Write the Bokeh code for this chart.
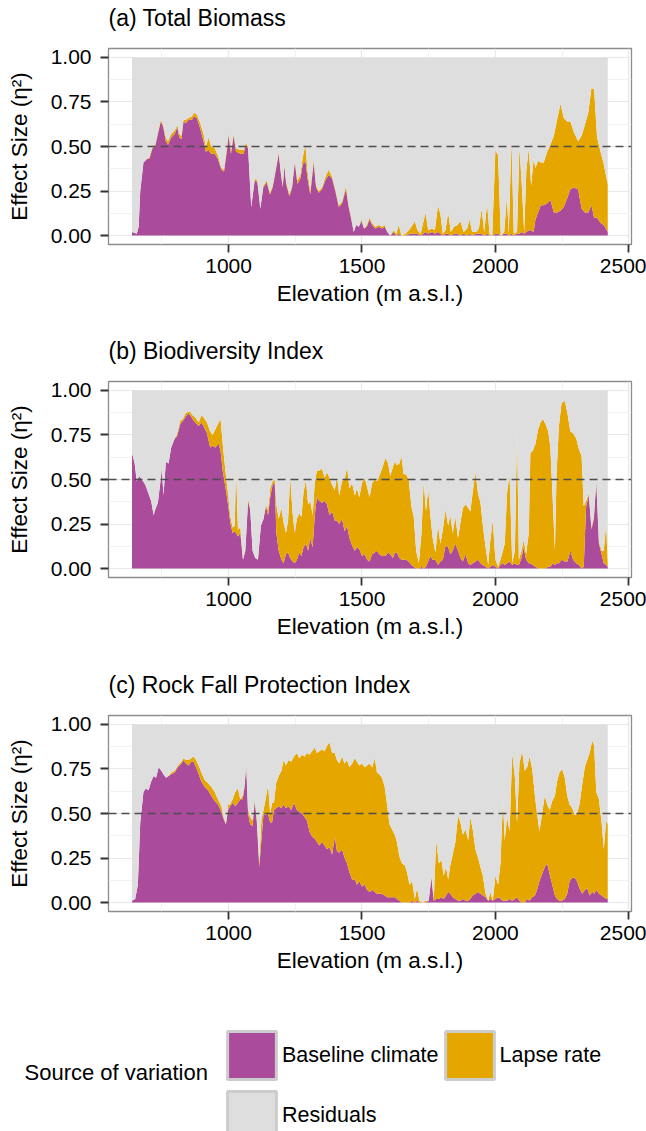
from bokeh.plotting import figure
from bokeh.models import (Range1d, FixedTicker, Span, Legend, LegendItem, Title,
                          ColumnDataSource, Label, PrintfTickFormatter)
from bokeh.layouts import column
from bokeh.embed import file_html
from bokeh.resources import INLINE

# ---------------- data ----------------
panel_titles = ["(a) Total Biomass", "(b) Biodiversity Index", "(c) Rock Fall Protection Index"]
legend_labels = ["Baseline climate", "Lapse rate", "Residuals"]
legend_title = "Source of variation"
x_ticks = [1000, 1500, 2000, 2500]
y_ticks = [0.0, 0.25, 0.5, 0.75, 1.0]
threshold = 0.5

elev_a = [638, 656, 663, 669, 681, 694, 703, 715, 725, 735,
          746, 755, 765, 773, 785, 798, 808, 815, 823, 831,
          840, 850, 863, 870, 881, 894, 906, 915, 925, 935,
          948, 960, 973, 983, 994, 1000, 1009, 1019, 1028, 1044,
          1056, 1065, 1073, 1085, 1098, 1108, 1119, 1130, 1143, 1155,
          1165, 1175, 1188, 1195, 1203, 1209, 1216, 1228, 1238, 1248,
          1258, 1269, 1278, 1288, 1296, 1306, 1319, 1328, 1338, 1350,
          1363, 1375, 1388, 1400, 1413, 1425, 1440, 1450, 1460, 1469,
          1478, 1488, 1498, 1508, 1518, 1528, 1538, 1550, 1563, 1575,
          1585, 1595, 1606, 1619, 1628, 1638, 1648, 1663, 1681, 1698,
          1708, 1720, 1738, 1748, 1763, 1773, 1785, 1794, 1803, 1813,
          1823, 1833, 1845, 1858, 1869, 1881, 1894, 1903, 1913, 1928,
          1938, 1948, 1958, 1969, 1978, 1988, 2000, 2010, 2020, 2033,
          2043, 2050, 2060, 2069, 2081, 2090, 2099, 2108, 2116, 2125,
          2134, 2143, 2150, 2160, 2170, 2181, 2194, 2206, 2219, 2231,
          2244, 2256, 2269, 2281, 2294, 2310, 2323, 2335, 2348, 2360,
          2370, 2381, 2394, 2406, 2421]
base_a = [.02, .01, .05, .25, .41, .43, .43, .49, .50, .57,
          .64, .61, .53, .51, .55, .57, .61, .55, .54, .64,
          .63, .65, .65, .67, .66, .60, .53, .47, .48, .46,
          .46, .43, .37, .36, .48, .56, .46, .56, .47, .46,
          .46, .51, .49, .16, .31, .30, .15, .27, .30, .23,
          .27, .35, .46, .36, .27, .39, .29, .22, .27, .41,
          .29, .32, .40, .42, .32, .23, .41, .27, .24, .26,
          .31, .34, .32, .25, .16, .18, .26, .16, .09, .02,
          .06, .05, .08, .04, .05, .09, .06, .04, .05, .04,
          .05, .02, .00, .02, .00, .01, .00, .00, .01, .01,
          .01, .00, .02, .01, .02, .01, .02, .01, .00, .01,
          .01, .00, .01, .01, .00, .01, .00, .01, .00, .01,
          .01, .01, .00, .01, .00, .00, .01, .01, .00, .01,
          .01, .00, .01, .00, .01, .01, .02, .01, .02, .03,
          .03, .02, .09, .13, .17, .17, .18, .20, .13, .13,
          .14, .16, .21, .26, .27, .26, .15, .13, .13, .17,
          .10, .10, .07, .06, .02]
lapse_a = [0, 0, 0, 0, 0, 0, .01, .01, .01, .01,
           .01, .01, .02, .02, .02, .02, .01, .02, .02, .01,
           .02, .01, .02, .02, .02, .03, .04, .03, .07, .04,
           .03, .02, .01, .01, .02, .01, .02, .01, .02, .02,
           .02, .01, .01, 0, .01, .01, 0, .01, .01, .01,
           .01, .01, .01, .01, .01, .01, .01, .01, .01, .01,
           .02, .02, .04, .09, .04, .02, .02, .01, .01, .01,
           .02, .03, .01, .01, .01, .01, .02, .01, .01, 0,
           0, 0, .01, 0, .01, .01, .01, .01, .01, .01,
           .01, 0, 0, .01, .01, .05, 0, .01, .03, .07,
           .02, .01, .11, .02, .02, .02, .15, .11, .01, .02,
           .12, .02, .04, .05, .08, .01, .04, .08, .02, .01,
           .03, .14, .02, .17, .01, 0, .47, .44, 0, .01,
           .21, .01, .53, .01, .01, .49, .26, .01, .35, .46,
           .25, .41, .29, .29, .24, .24, .29, .31, .43, .52,
           .60, .50, .43, .38, .31, .27, .41, .49, .56, .66,
           .72, .45, .40, .34, .27]

elev_b = [638, 648, 656, 665, 675, 688, 700, 710, 719, 725,
          735, 744, 750, 756, 765, 775, 785, 798, 806, 819,
          829, 838, 848, 856, 865, 875, 888, 898, 906, 919,
          931, 940, 950, 963, 970, 978, 988, 998, 1006, 1015,
          1023, 1028, 1035, 1044, 1054, 1063, 1073, 1081, 1090, 1100,
          1110, 1121, 1131, 1140, 1148, 1156, 1165, 1173, 1179, 1188,
          1198, 1206, 1215, 1223, 1231, 1240, 1248, 1256, 1265, 1273,
          1281, 1290, 1298, 1306, 1315, 1323, 1331, 1340, 1350, 1360,
          1369, 1378, 1388, 1398, 1406, 1415, 1425, 1435, 1444, 1453,
          1463, 1473, 1481, 1490, 1500, 1510, 1519, 1528, 1538, 1548,
          1556, 1565, 1575, 1588, 1598, 1606, 1616, 1623, 1631, 1640,
          1648, 1656, 1665, 1675, 1685, 1694, 1703, 1713, 1723, 1731,
          1740, 1748, 1756, 1765, 1775, 1785, 1794, 1803, 1813, 1823,
          1831, 1840, 1850, 1860, 1869, 1878, 1888, 1898, 1906, 1915,
          1925, 1935, 1944, 1953, 1963, 1973, 1981, 1990, 2000, 2010,
          2019, 2028, 2035, 2044, 2053, 2063, 2073, 2081, 2088, 2098,
          2106, 2115, 2125, 2131, 2140, 2150, 2160, 2169, 2178, 2188,
          2198, 2206, 2215, 2223, 2229, 2238, 2248, 2260, 2270, 2281,
          2291, 2303, 2313, 2323, 2331, 2340, 2350, 2360, 2369, 2378,
          2388, 2398, 2406, 2415, 2421]
base_b = [.65, .59, .49, .52, .50, .47, .42, .38, .30, .33,
          .37, .48, .56, .41, .60, .59, .68, .73, .74, .81,
          .83, .85, .87, .86, .84, .82, .80, .82, .80, .76,
          .68, .69, .68, .70, .66, .55, .46, .36, .26, .20,
          .21, .20, .18, .20, .05, .10, .38, .33, .10, .06,
          .05, .24, .28, .35, .30, .40, .47, .48, .20, .10,
          .05, .03, .08, .09, .06, .04, .03, .05, .09, .07,
          .12, .14, .10, .17, .12, .30, .40, .38, .37, .38,
          .36, .30, .32, .27, .27, .25, .28, .21, .24, .17,
          .13, .10, .12, .11, .07, .08, .05, .04, .08, .09,
          .10, .08, .07, .07, .09, .08, .06, .09, .09, .06,
          .05, .05, .05, .04, .02, .01, .00, .00, .01, .00,
          .01, .04, .07, .05, .05, .02, .04, .05, .13, .12,
          .08, .10, .14, .10, .06, .04, .08, .03, .02, .03,
          .04, .05, .03, .02, .01, .00, .01, .02, .01, .00,
          .02, .03, .02, .03, .04, .02, .03, .02, .02, .06,
          .12, .05, .03, .03, .02, .01, .00, .00, .00, .00,
          .01, .01, .03, .02, .03, .03, .05, .04, .04, .10,
          .05, .03, .02, .00, .01, .35, .41, .22, .28, .49,
          .14, .08, .03, .02, .01]
lapse_b = [0, 0, 0, 0, 0, 0, 0, 0, 0, 0,
           0, 0, 0, 0, 0, 0, 0, 0, .01, .02,
           .01, .02, .01, .02, .02, .03, .02, .04, .05, .06,
           .09, .06, .10, .12, .18, .15, .09, .06, .04, .03,
           .03, .37, .04, .03, 0, .01, .01, .01, 0, 0,
           0, 0, 0, .01, .03, .05, .02, .02, .16, .18,
           .29, .23, .12, .18, .46, .27, .17, .23, .22, .22,
           .31, .36, .26, .21, .18, .18, .15, .17, .19, .13,
           .18, .21, .15, .17, .25, .16, .21, .29, .33, .28,
           .35, .31, .33, .29, .41, .43, .41, .36, .40, .41,
           .39, .44, .49, .55, .50, .44, .51, .51, .49, .53,
           .58, .48, .48, .46, .33, .28, .10, .03, .19, .49,
           .31, .41, .23, .12, .04, .22, .10, .17, .20, .12,
           .22, .10, .15, .07, .20, .30, .28, .31, .30, .40,
           .50, .37, .34, .22, .11, .02, .15, .25, .04, .01,
           .03, .07, .12, .40, .49, .01, .07, .75, .03, .04,
           .04, .03, .17, .62, .64, .69, .78, .82, .84, .81,
           .76, .67, .35, .08, .50, .77, .88, .90, .83, .67,
           .71, .70, .65, .63, .34, .03, .01, .01, .01, .01,
           .01, .02, .07, .23, .02]

elev_c = [638, 650, 660, 669, 681, 690, 700, 710, 719, 728,
          738, 748, 756, 765, 775, 785, 798, 810, 823, 831,
          840, 850, 860, 869, 878, 888, 898, 910, 923, 935,
          948, 960, 973, 981, 990, 998, 1006, 1015, 1025, 1035,
          1044, 1053, 1060, 1066, 1073, 1081, 1090, 1098, 1106, 1115,
          1123, 1131, 1140, 1148, 1156, 1163, 1170, 1178, 1188, 1198,
          1206, 1215, 1225, 1235, 1245, 1256, 1265, 1275, 1285, 1294,
          1303, 1313, 1323, 1331, 1340, 1350, 1360, 1369, 1378, 1388,
          1398, 1406, 1415, 1425, 1435, 1444, 1453, 1463, 1473, 1481,
          1490, 1500, 1510, 1519, 1528, 1538, 1548, 1556, 1565, 1575,
          1585, 1594, 1603, 1613, 1623, 1631, 1640, 1650, 1660, 1669,
          1678, 1688, 1698, 1706, 1715, 1725, 1738, 1750, 1760, 1769,
          1778, 1788, 1798, 1806, 1815, 1823, 1831, 1840, 1850, 1860,
          1869, 1878, 1888, 1898, 1906, 1915, 1925, 1935, 1944, 1953,
          1963, 1973, 1981, 1990, 2000, 2010, 2019, 2028, 2035, 2044,
          2053, 2063, 2073, 2081, 2090, 2100, 2110, 2119, 2128, 2138,
          2148, 2156, 2165, 2175, 2185, 2194, 2203, 2213, 2223, 2231,
          2240, 2250, 2260, 2269, 2278, 2288, 2298, 2306, 2315, 2325,
          2335, 2344, 2353, 2363, 2370, 2378, 2388, 2398, 2406, 2415,
          2421]
base_c = [.01, .02, .10, .45, .62, .64, .63, .68, .71, .70,
          .76, .74, .72, .70, .71, .72, .73, .76, .78, .80,
          .78, .77, .79, .79, .76, .72, .68, .65, .63, .60,
          .57, .55, .51, .47, .44, .52, .54, .56, .54, .56,
          .58, .58, .65, .77, .50, .44, .43, .57, .45, .20,
          .35, .50, .49, .50, .45, .45, .52, .53, .54, .53,
          .55, .53, .54, .52, .56, .52, .51, .50, .48, .46,
          .40, .37, .36, .34, .32, .34, .32, .30, .31, .27,
          .37, .29, .28, .30, .25, .22, .17, .13, .13, .10,
          .12, .09, .10, .07, .06, .07, .06, .05, .05, .05,
          .04, .03, .03, .03, .03, .02, .01, .00, .00, .00,
          .00, .01, .00, .01, .00, .00, .00, .01, .14, .01,
          .02, .02, .03, .02, .04, .06, .05, .03, .02, .01,
          .01, .02, .01, .01, .02, .04, .05, .06, .05, .04,
          .03, .01, .02, .01, .02, .03, .02, .01, .01, .01,
          .02, .01, .02, .03, .01, .00, .00, .02, .01, .03,
          .04, .07, .12, .16, .20, .22, .16, .10, .04, .02,
          .01, .01, .02, .05, .12, .14, .14, .12, .08, .05,
          .07, .08, .04, .06, .05, .07, .05, .04, .03, .02,
          .02]
lapse_c = [0, 0, 0, 0, 0, 0, 0, 0, 0, 0,
           0, 0, 0, 0, 0, .01, .01, .01, .01, .01,
           .02, .03, .02, .03, .04, .05, .05, .04, .04, .05,
           .05, .03, .03, .01, 0, .03, .01, .02, .08, .08,
           0, .02, .01, .01, .02, .04, .03, .01, .02, .02,
           .12, .02, .10, .16, .05, .11, .04, .14, .17, .21,
           .25, .24, .26, .27, .26, .32, .30, .33, .34, .38,
           .43, .48, .51, .50, .53, .52, .53, .58, .59, .57,
           .47, .51, .50, .52, .53, .58, .59, .65, .68, .69,
           .65, .69, .66, .70, .72, .69, .75, .68, .67, .65,
           .61, .52, .41, .38, .35, .32, .25, .22, .21, .17,
           .10, .11, .02, .07, .01, 0, .01, 0, .01, .01,
           .33, .20, .21, .13, .16, .07, .16, .24, .32, .48,
           .44, .36, .40, .34, .46, .37, .25, .19, .15, .11,
           .02, 0, .04, 0, .13, .07, .20, .56, .34, .47,
           .38, .83, .68, .42, .77, .85, .74, .74, .81, .72,
           .56, .43, .28, .34, .40, .33, .36, .47, .56, .66,
           .72, .74, .68, .55, .43, .39, .35, .38, .47, .61,
           .69, .72, .80, .85, .83, .55, .53, .41, .27, .44,
           .42]

# ---------------- styling ----------------
PURPLE = "#AA4B9B"
ORANGE = "#E5A600"
GREY = "#DEDEDE"
FONT = "Liberation Sans"
W = 646


def make_panel(title, elev, base, lapse, height):
    resid = [1.0 - b - l for b, l in zip(base, lapse)]
    src = ColumnDataSource(dict(elev=elev, base=base, lapse=lapse, resid=resid))
    p = figure(width=W, height=height, x_range=Range1d(550, 2510),
               y_range=Range1d(-0.05, 1.05), output_backend="svg",
               toolbar_location=None, title=title,
               min_border_left=108, min_border_right=15,
               min_border_top=48, min_border_bottom=height - 48 - 196)
    p.varea_stack(["base", "lapse", "resid"], x="elev", source=src,
                  color=[PURPLE, ORANGE, GREY])
    p.add_layout(Span(location=threshold, dimension="width", line_color="#4D4D4D",
                      line_dash="8 5", line_width=1.5))
    p.title.align = "left"
    p.title.vertical_align = "bottom"
    p.title.text_font = FONT
    p.title.text_font_size = "23px"
    p.title.text_font_style = "normal"
    p.title.text_color = "black"
    p.title.standoff = 0
    # thin empty spacer between the frame and the title (lifts the title up)
    p.add_layout(Title(text=" ", text_font_size="1px", standoff=15), "above")

    p.background_fill_color = "white"
    p.border_fill_color = "white"
    p.outline_line_color = "#8C8C8C"
    p.outline_line_width = 1.3

    p.xaxis.ticker = FixedTicker(ticks=x_ticks, minor_ticks=[750, 1250, 1750, 2250])
    p.yaxis.ticker = FixedTicker(ticks=y_ticks,
                                 minor_ticks=[0.125, 0.375, 0.625, 0.875])
    p.xaxis.formatter = PrintfTickFormatter(format="%d")
    p.yaxis.formatter = PrintfTickFormatter(format="%.2f")
    p.xaxis.axis_label = "Elevation (m a.s.l.)"
    p.yaxis.axis_label = "Effect Size (\u03b7\u00b2)"
    for ax in (p.xaxis, p.yaxis):
        ax.axis_line_color = None
        ax.major_tick_line_color = "#333333"
        ax.major_tick_line_width = 1.8
        ax.major_tick_out = 8
        ax.major_tick_in = 0
        ax.minor_tick_line_color = None
        ax.major_label_text_font = FONT
        ax.major_label_text_font_size = "21px"
        ax.major_label_text_color = "black"
        ax.axis_label_text_font = FONT
        ax.axis_label_text_font_size = "22.5px"
        ax.axis_label_text_font_style = "normal"
        ax.axis_label_text_color = "black"
    p.yaxis.major_label_standoff = 9
    p.yaxis.axis_label_standoff = 16
    p.xaxis.major_label_standoff = 6
    p.xaxis.axis_label_standoff = 5
    for g in (p.xgrid, p.ygrid):
        g.grid_line_color = "#E8E8E8"
        g.grid_line_width = 1.2
        g.minor_grid_line_color = "#F1F1F1"
        g.minor_grid_line_width = 1
    return p


pa = make_panel(panel_titles[0], elev_a, base_a, lapse_a, 333)
pb = make_panel(panel_titles[1], elev_b, base_b, lapse_b, 334)
pc = make_panel(panel_titles[2], elev_c, base_c, lapse_c, 333)

# ---------------- legend strip ----------------
LH = 131
lg = figure(width=W, height=LH, x_range=Range1d(0, W), y_range=Range1d(0, LH),
            output_backend="svg", toolbar_location=None, x_axis_type=None,
            y_axis_type=None, min_border=0, title=None)
try:
    lg.frame_align = False
except AttributeError:
    pass
lg.outline_line_color = None
lg.xgrid.visible = False
lg.ygrid.visible = False
lg.background_fill_color = "white"
lg.border_fill_color = "white"

NAN = float("nan")
renderers = []
for col in (PURPLE, ORANGE, GREY):
    r = lg.quad(left=[NAN], right=[NAN], top=[NAN], bottom=[NAN], fill_color=col,
                line_color="#CCCCCC", line_width=3)
    renderers.append(r)
items = [LegendItem(label=lab, renderers=[r]) for lab, r in zip(legend_labels, renderers)]
legend = Legend(items=items, location=(221, -14), orientation="horizontal", ncols=2,
                glyph_width=61, glyph_height=60, label_standoff=0, spacing=0,
                padding=0, margin=0, border_line_color=None,
                background_fill_alpha=0, label_text_font=FONT,
                label_text_font_size="21.5px", label_text_color="black")
lg.add_layout(legend)
lg.add_layout(Label(x=24, y=LH - 72, text=legend_title, text_baseline="middle",
                    text_font=FONT, text_font_size="22px", text_color="black"))

layout = column(pa, pb, pc, lg, spacing=0)
open("out.html", "w").write(file_html(layout, INLINE))
